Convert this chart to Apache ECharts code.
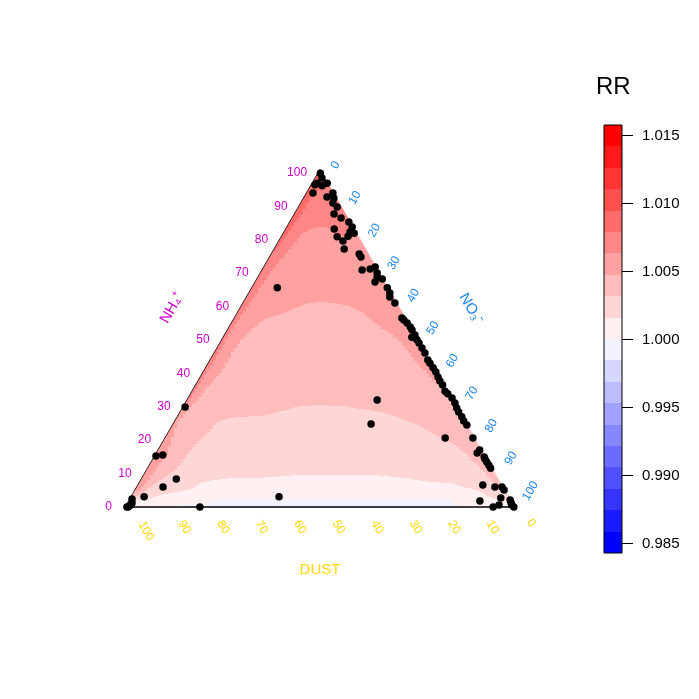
<!DOCTYPE html>
<html><head><meta charset="utf-8">
<style>html,body{margin:0;padding:0;background:#fff}#c{width:699px;height:699px}</style>
<script src="https://cdn.jsdelivr.net/npm/echarts@6/dist/echarts.min.js"></script></head>
<body><div id="c"></div>
<script>
// Measured compositions (percent); DUST = 100 - NH4 - NO3
const nh4 = [98.8,97.4,95.4,95.9,95.1,95.9,93.0,93.0,91.8,91.5,90.0,88.8,86.8,85.6,84.4,82.9,82.3,81.4,81.1,80.2,80.0,78.8,76.4,74.9,74.0,70.2,70.5,71.1,69.3,68.1,67.5,66.6,64.9,63.4,62.2,60.4,56.0,55.4,54.5,53.3,52.4,50.9,50.3,49.5,48.6,47.1,45.6,43.5,42.6,41.2,40.0,38.5,37.3,36.1,34.3,33.5,32.3,30.8,29.3,28.1,26.7,25.5,24.3,20.4,16.9,16.0,14.8,14.2,13.3,12.4,11.5,6.5,5.9,5.9,5.0,2.7,2.1,1.8,0.6,0,0.6,0,64.9,31.7,24.6,20.4,29.6,15.1,15.4,8.3,5.9,3.0,2.4,1.2,0.6,0,0,3.0,0,1.2];
const no3 = [0.7,1.8,1.0,1.3,3.0,3.9,1.7,6.8,5.9,7.8,8.3,10.0,10.2,12.6,15.2,16.8,12.5,17.0,18.2,17.1,14.4,16.5,18.0,22.6,23.5,25.7,27.6,28.6,30.0,30.6,32.2,30.8,34.8,36.2,36.8,39.0,43.0,43.8,45.1,46.5,47.4,48.9,48.4,50.1,51.1,52.6,54.1,55.9,56.9,58.4,59.7,61.0,62.1,63.4,64.9,66.0,67.7,69.2,70.4,71.5,73.0,74.1,75.5,79.0,82.5,82.3,84.7,85.2,86.1,87.1,88.0,88.5,91.9,93.7,94.7,95.0,97.7,90.1,95.6,94.4,98.9,99.7,6.6,48.8,50.8,71.9,0.6,0.4,2.0,9.0,6.8,3.4,0.6,1.2,1.2,0.8,0.5,38.0,19.2,98.4];

// Contour curves of the RR surface, as [position along base, NH4]; each region lies above its curve
const apex = [50,100];
const curveBase = [[0,0],[100,0]];
const curve1000 = [[0,0],[6.4,0],[22.6,1.2],[23.6,2.3],[83.3,2.3],[83.8,1.2],[86.7,0],[100,0]];
const curve1002 = [[1.0,2.1],[5.1,2.1],[9.0,3.6],[16.7,5.3],[20.0,7.4],[26.9,8.6],[33.8,8.6],[44.9,9.5],[50,9.5],[63.6,9.5],[71.3,8.6],[78.2,7.4],[83.3,7.1],[86.7,5.9],[90.3,5.0],[93.6,3.0],[96.2,2.1],[99.0,2.1]];
const curve1003 = [[1.5,3.0],[3.8,3.6],[6.4,5.9],[9.0,8.0],[12.3,10.4],[14.6,13.3],[16.7,16.9],[19.2,19.8],[21.8,22.8],[23.6,25.2],[26.9,26.4],[36.4,27.2],[44.9,29.9],[50,30.2],[55.1,29.9],[66.2,28.1],[74.9,24.3],[78.2,22.2],[83.3,19.2],[87.7,15.4],[91.0,11.5],[94.4,7.4],[96.2,5.6],[96.9,5.6]];
const curve1005 = [[2.3,4.7],[3.8,5.0],[5.9,8.0],[7.7,11.0],[10.8,16.0],[12.1,20.7],[13.3,24.9],[15.4,27.8],[18.5,31.7],[21.0,35.5],[25.1,40.6],[27.7,46.5],[31.3,51.5],[35.4,55.4],[40.5,57.4],[44.1,59.2],[46.7,60.4],[50.8,60.7],[56.9,59.8],[61.0,57.4],[65.4,53.3],[69.7,50.0],[73.8,44.1],[78.2,38.5],[81.3,34.6],[84.6,30.2]];
const curve1006 = [[14.4,28.7],[15.4,30.2],[16.7,32.3],[19.2,36.7],[21.8,41.5],[24.4,46.5],[26.9,51.5],[29.5,56.3],[32.6,61.3],[34.6,65.1],[37.2,69.3],[39.7,73.1],[43.1,77.6],[45.6,81.4],[49.2,82.9],[51.8,82.9],[54.4,80.5],[56.4,80.2],[58.5,82.9]];
const curve1008 = [[37.9,75.5],[41.0,80.0],[44.1,85.0],[46.2,88.8],[48.2,93.0],[50.5,94.8],[51.8,95.9]];
const regionCurves = [curveBase,curve1000,curve1002,curve1003,curve1005,curve1006,curve1008];
const regionColors = ['#F1F1FF','#FFF1F1','#FFD6D6','#FFBCBC','#FFA1A1','#FF8686','#FF6B6B'];

// Tick labels
const tickNH4 = [0,10,20,30,40,50,60,70,80,90,100];
const tickNO3 = [0,10,20,30,40,50,60,70,80,90,100];
const tickDUST = [100,90,80,70,60,50,40,30,20,10,0];

// Colour key
const keyBreaks = [0.98426,0.98583,0.98741,0.98898,0.99055,0.99213,0.99370,0.99528,0.99685,0.99843,1.00000,1.00157,1.00315,1.00472,1.00630,1.00787,1.00945,1.01102,1.01260,1.01417,1.01574];
const keyColors = ['#0000FF','#1B1BFF','#3535FF','#5050FF','#6B6BFF','#8686FF','#A1A1FF','#BCBCFF','#D6D6FF','#F1F1FF','#FFF1F1','#FFD6D6','#FFBCBC','#FFA1A1','#FF8686','#FF6B6B','#FF5050','#FF3535','#FF1B1B','#FF0000'];
const keyTicks = [0.985,0.990,0.995,1.000,1.005,1.010,1.015];

const FONT = '"Liberation Sans", Arial, sans-serif';

function labelSeries(ticks, place, color, rotDeg){
  return {type:'custom',coordinateSystem:'cartesian2d',xAxisIndex:0,yAxisIndex:0,clip:false,silent:true,z:5,
    data:ticks.map(v=>[v]),
    renderItem(p,api){
      const v=api.value(0), q=place(v), c=api.coord([q[0],q[1]]);
      return {type:'text',x:c[0]+q[2],y:c[1]+q[3],rotation:rotDeg*Math.PI/180,
        style:{text:String(v),fill:color,font:'12px '+FONT,align:'center',verticalAlign:'middle'}};
    }};
}

// The original surface was rasterised: walk a contour in screen space and snap it to a coarse pixel lattice
function staircase(pts){
  const out=[pts[0]];
  let last=null;
  for(let s=0;s<pts.length-1;s++){
    const a=pts[s], b=pts[s+1], n=Math.max(1,Math.ceil(Math.hypot(b[0]-a[0],b[1]-a[1])));
    for(let k=0;k<=n;k++){
      const sx=Math.round((a[0]+(b[0]-a[0])*k/n)/3)*3, sy=Math.round(a[1]+(b[1]-a[1])*k/n);
      if(last){
        if(sx===last[0]&&sy===last[1]) continue;
        if(sx!==last[0]&&sy!==last[1]) out.push([sx,last[1]]);
      }
      out.push([sx,sy]); last=[sx,sy];
    }
  }
  out.push(pts[pts.length-1]);
  return out;
}

const option = {
  animation:false, backgroundColor:'#fff',
  grid:[
    {left:125,top:169.3,width:390,height:337.7,show:false},
    {left:604,top:125,width:18,height:428,show:true,borderColor:'#000',borderWidth:1,backgroundColor:'transparent',z:10}
  ],
  xAxis:[
    {type:'value',gridIndex:0,min:0,max:100,show:false},
    {type:'value',gridIndex:1,min:0,max:1,show:false}
  ],
  yAxis:[
    {type:'value',gridIndex:0,min:0,max:100,show:false},
    {type:'value',gridIndex:1,min:keyBreaks[0],max:keyBreaks[20],show:false}
  ],
  series:[
    {type:'custom',coordinateSystem:'cartesian2d',xAxisIndex:0,yAxisIndex:0,silent:true,clip:false,z:1,
      data:regionColors.map((c,i)=>[i]),
      renderItem(p,api){
        const i=api.value(0);
        const curve=staircase(regionCurves[i].map(q=>api.coord(q)));
        return {type:'polygon',shape:{points:curve.concat([api.coord(apex)])},
          style:{fill:regionColors[i],stroke:null}};
      }},
    {type:'line',xAxisIndex:0,yAxisIndex:0,symbol:'none',silent:true,z:2,clip:false,
      data:[[0,0],[100,0]],lineStyle:{color:'#000',width:1.4}},
    {type:'line',xAxisIndex:0,yAxisIndex:0,symbol:'none',silent:true,z:2,clip:false,
      data:[[0,0],[50,100]],lineStyle:{color:'#000',width:0.8}},
    {type:'scatter',xAxisIndex:0,yAxisIndex:0,symbol:'circle',symbolSize:7.5,silent:true,z:4,clip:false,
      itemStyle:{color:'#000',opacity:1},
      data:nh4.map((n,i)=>[no3[i]+n/2,n])},
    labelSeries(tickNH4,v=>[v/2,v,-13-(String(v).length*3.3),v*0.035],'#CD00CD',0),
    labelSeries(tickNO3,v=>[50+v/2,100-v,15.5,-4-v*0.12],'#1C86EE',60),
    labelSeries(tickDUST,v=>[100-v,0,16+v*0.05,16+(v===100?8:(v===0?0:4))],'#FFD700',-60),
    {type:'custom',coordinateSystem:'cartesian2d',xAxisIndex:1,yAxisIndex:1,silent:true,z:3,
      data:keyColors.map((c,i)=>[i]),
      renderItem(p,api){
        const i=api.value(0), a=api.coord([0,keyBreaks[i+1]]), b=api.coord([1,keyBreaks[i]]);
        const top=Math.round(a[1]), bottom=Math.round(b[1]);
        return {type:'rect',shape:{x:a[0],y:top,width:b[0]-a[0],height:bottom-top},style:{fill:keyColors[i],stroke:null}};
      }},
    {type:'custom',coordinateSystem:'cartesian2d',xAxisIndex:1,yAxisIndex:1,silent:true,clip:false,z:3,
      data:keyTicks.map(v=>[v]),
      renderItem(p,api){
        const v=api.value(0), c=api.coord([1,v]), y=Math.round(c[1])+0.5;
        return {type:'group',children:[
          {type:'line',shape:{x1:c[0],y1:y,x2:c[0]+11,y2:y},style:{stroke:'#000',lineWidth:1}},
          {type:'text',x:c[0]+20,y:y+0.5,style:{text:v.toFixed(3),fill:'#000',font:'15px '+FONT,align:'left',verticalAlign:'middle'}}
        ]};
      }}
  ],
  graphic:[
    {type:'text',left:596,top:75,style:{text:'RR',fill:'#000',font:'24px '+FONT}},
    {type:'text',x:320,y:570,style:{text:'DUST',fill:'#FFD700',font:'15px '+FONT,align:'center',verticalAlign:'middle'}},
    {type:'text',x:172,y:308,rotation:Math.PI/3,style:{text:'NH\u2084\u207A',fill:'#CD00CD',font:'15px '+FONT,align:'center',verticalAlign:'middle'}},
    {type:'text',x:471,y:309,rotation:-Math.PI/3,style:{text:'NO\u2083\u207B',fill:'#1C86EE',font:'15px '+FONT,align:'center',verticalAlign:'middle'}}
  ]
};
echarts.init(document.getElementById('c'),null,{renderer:'canvas'}).setOption(option);
</script></body></html>
